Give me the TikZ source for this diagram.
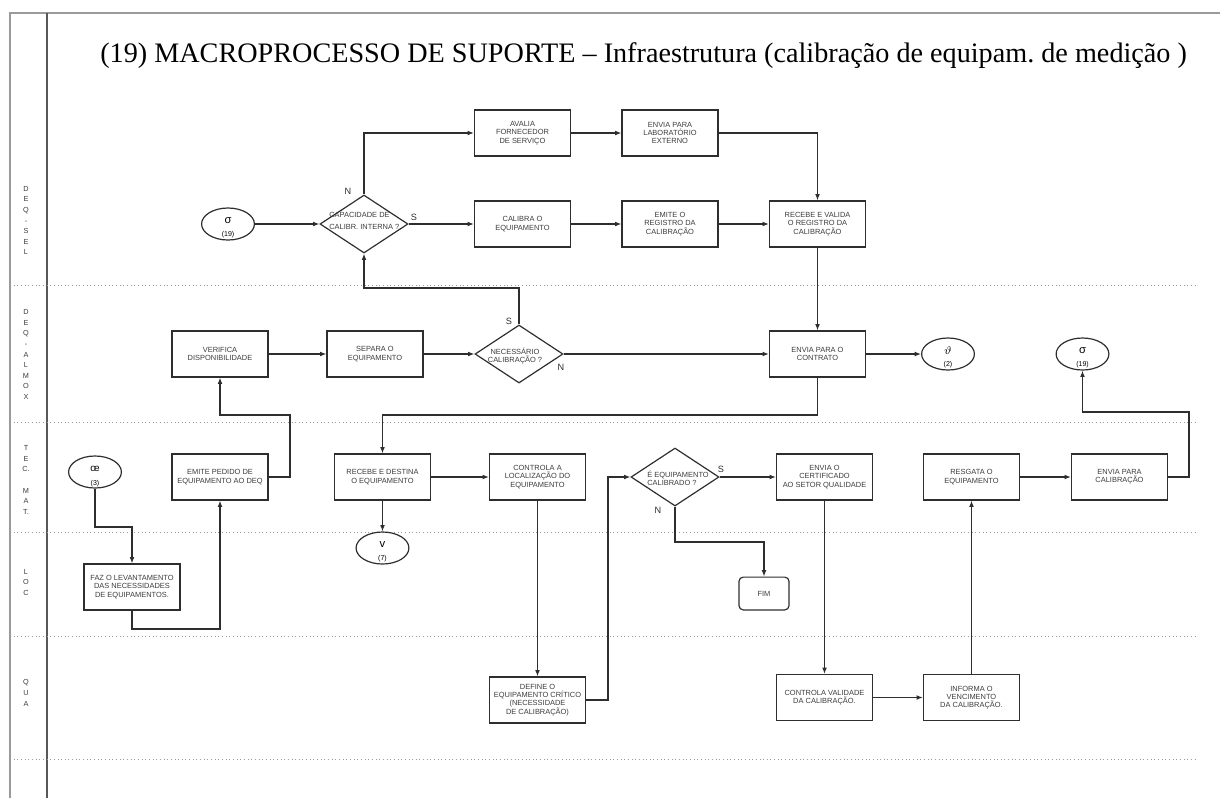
\documentclass[tikz,border=0pt]{standalone}
\usepackage{fontspec}
\setmainfont{Liberation Serif}
\setsansfont{Liberation Sans}
\usetikzlibrary{arrows.meta,shapes.geometric}
\definecolor{linegray}{HTML}{2E2E2E}
\definecolor{textgray}{HTML}{3C3C3C}
\definecolor{framegray}{HTML}{9A9A9A}
\newcommand{\boxfont}{\sffamily\fontsize{5.3}{5.9}\selectfont}
\newcommand{\lanefont}{\sffamily\fontsize{5.2}{7.55}\selectfont}
\newcommand{\symfont}{\sffamily\fontsize{8}{8}\selectfont}
\newcommand{\numfont}{\sffamily\fontsize{5}{5}\selectfont}

\begin{document}
\begin{tikzpicture}[x=0.025cm,y=-0.025cm,>={Latex[length=4.5pt,width=3.4pt]},
  atividade/.style={draw=linegray,line width=0.85pt,minimum width=2.4cm,minimum height=1.15cm,
    inner sep=1pt,align=center,text=textgray,font=\boxfont},
  decisao/.style={draw=linegray,line width=0.85pt,diamond,minimum width=2.2cm,minimum height=1.45cm,inner sep=0pt},
  conector/.style={draw=linegray,line width=0.85pt,ellipse,minimum width=1.32cm,minimum height=0.8cm,inner sep=0pt},
  fluxo/.style={->,draw=linegray,line width=0.75pt},
  resposta/.style={font=\sffamily\fontsize{6.5}{7}\selectfont,text=linegray,inner sep=0pt},
  raia/.style={framegray,dotted,line width=0.6pt}]
  \useasboundingbox (0,0) rectangle (1220,798);

  % moldura e raias
  \draw[framegray,line width=1pt] (10,798) -- (10,13) -- (1220,13);
  \draw[linegray!80,line width=0.9pt] (47,13) -- (47,798);
  \foreach \y in {285,422,532,636,759}
    \draw[raia] (10,\y) -- (1197,\y);
  \node[font=\lanefont,text=textgray,align=center] (lsel) at (26,220.5) {D\\E\\Q\\-\\S\\E\\L};
  \node[font=\lanefont,text=textgray,align=center] (lalm) at (26,354.5) {D\\E\\Q\\-\\A\\L\\M\\O\\X};
  \node[font=\lanefont,text=textgray,align=center] (ltec) at (26,480) {T\\E\\C.\\\mbox{}\\M\\A\\T.};
  \node[font=\lanefont,text=textgray,align=center] (lloc) at (26,582.5) {L\\O\\C};
  \node[font=\lanefont,text=textgray,align=center] (lqua) at (26,693) {Q\\U\\A};

  \node[anchor=base west,inner sep=0pt,font=\fontsize{20.05}{23}\selectfont\frenchspacing] (titulo) at (100,62)
    {(19) MACROPROCESSO DE SUPORTE -- Infraestrutura (calibração de equipam. de medição )};

  % DEQ - SEL
  \node[conector] (sig1) at (228,224) {};
  \node[font=\symfont] (sig1s) at (228,221) {σ};
  \node[font=\numfont] (sig1n) at (228,235) {(19)};
  \node[decisao] (capac) at (364,224) {};
  \node[anchor=west,align=left,inner sep=0pt,text=textgray,font=\sffamily\fontsize{5.3}{8.5}\selectfont]
    (capact) at (329,221) {CAPACIDADE DE\\CALIBR. INTERNA ?};
  \node[atividade] (avalia) at (522.5,133) {AVALIA\\FORNECEDOR\\DE SERVIÇO};
  \node[atividade] (envlab) at (670,133) {ENVIA PARA\\LABORATÓRIO\\EXTERNO};
  \node[atividade] (calibra) at (522.5,224) {CALIBRA O\\EQUIPAMENTO};
  \node[atividade] (emreg) at (670,224) {EMITE O\\REGISTRO DA\\CALIBRAÇÃO};
  \node[atividade] (recval) at (817.5,224) {RECEBE E VALIDA\\O REGISTRO DA\\CALIBRAÇÃO};
  \node[resposta] (capn) at (348,191) {N};
  \node[resposta] (caps) at (414,217) {S};

  % DEQ - ALMOX
  \node[atividade] (verifica) at (220,354) {VERIFICA\\DISPONIBILIDADE};
  \node[atividade] (separa) at (375,354) {SEPARA O\\EQUIPAMENTO};
  \node[decisao] (neces) at (519,354) {};
  \node[align=center,inner sep=0pt,text=textgray,font=\boxfont] (necest) at (515,356) {NECESSÁRIO\\CALIBRAÇÃO ?};
  \node[resposta] (necs) at (509,321) {S};
  \node[resposta] (necn) at (561,367) {N};
  \node[atividade] (contrato) at (817.5,354) {ENVIA PARA O\\CONTRATO};
  \node[conector] (theta) at (948,354) {};
  \node[font=\symfont] (thetas) at (948,351) {$\vartheta$};
  \node[font=\numfont] (thetan) at (948,365) {(2)};
  \node[conector] (sig2) at (1082.5,354) {};
  \node[font=\symfont] (sig2s) at (1082.5,351) {σ};
  \node[font=\numfont] (sig2n) at (1082.5,365) {(19)};

  % TEC. MAT.
  \node[conector] (oe) at (95,472) {};
  \node[font=\sffamily\fontsize{7}{7}\selectfont] (oes) at (95,469) {œ};
  \node[font=\numfont] (oen) at (95,484) {(3)};
  \node[atividade] (emite) at (220,477) {EMITE PEDIDO DE\\EQUIPAMENTO AO DEQ};
  \node[atividade] (destina) at (382.5,477) {RECEBE E DESTINA\\O EQUIPAMENTO};
  \node[atividade] (localiza) at (537.5,477) {CONTROLA A\\LOCALIZAÇÃO DO\\EQUIPAMENTO};
  \node[decisao] (calib) at (675,477) {};
  \node[anchor=west,align=left,inner sep=0pt,text=textgray,font=\boxfont] (calibt) at (647,478)
    {É EQUIPAMENTO\\CALIBRADO ?};
  \node[resposta] (calibs) at (721,469) {S};
  \node[resposta] (calibn) at (658,510) {N};
  \node[atividade] (certif) at (824.5,477) {ENVIA O\\CERTIFICADO\\AO SETOR QUALIDADE};
  \node[atividade] (resgata) at (971.5,477) {RESGATA O\\EQUIPAMENTO};
  \node[atividade] (envcal) at (1119.5,477) {ENVIA PARA\\CALIBRAÇÃO};

  % LOC
  \node[conector] (vv) at (382.5,548) {};
  \node[font=\symfont] (vvs) at (382.5,545) {v};
  \node[font=\numfont] (vvn) at (382.5,559) {(7)};
  \node[atividade] (levanta) at (132,587) {FAZ O LEVANTAMENTO\\DAS NECESSIDADES\\DE EQUIPAMENTOS.};
  \node[draw=linegray,line width=0.85pt,rounded corners=3pt,minimum width=1.25cm,minimum height=0.82cm,
    text=textgray,font=\boxfont] (fim) at (764,593.5) {FIM};

  % QUA
  \node[atividade] (define) at (537.5,700) {DEFINE O\\EQUIPAMENTO CRÍTICO\\(NECESSIDADE\\DE CALIBRAÇÃO)};
  \node[atividade] (validade) at (824.5,697.5) {CONTROLA VALIDADE\\DA CALIBRAÇÃO.};
  \node[atividade] (informa) at (971.5,697.5) {INFORMA O\\VENCIMENTO\\DA CALIBRAÇÃO.};

  % pontos de dobra
  \coordinate (k1) at (519,288);
  \coordinate (k2) at (817.5,415);
  \coordinate (k3) at (290,415);
  \coordinate (k4) at (95,527);
  \coordinate (k5) at (132,629);
  \coordinate (k6) at (608,700);
  \coordinate (k7) at (675,542);
  \coordinate (k8) at (1189,412);

  % fluxos
  \draw[fluxo] (sig1) -- (capac);
  \draw[fluxo] (capac.north) |- (avalia.west);
  \draw[fluxo] (capac.east) -- (calibra.west);
  \draw[fluxo] (avalia) -- (envlab);
  \draw[fluxo] (calibra) -- (emreg);
  \draw[fluxo] (emreg) -- (recval);
  \draw[fluxo] (envlab.east) -| (recval.north);
  \draw[fluxo] (recval) -- (contrato);
  \draw[fluxo] (verifica) -- (separa);
  \draw[fluxo] (separa) -- (neces);
  \draw[fluxo] (neces.north) -- (k1) -| (capac.south);
  \draw[fluxo] (neces.east) -- (contrato.west);
  \draw[fluxo] (contrato) -- (theta);
  \draw[fluxo] (contrato.south) -- (k2) -| (destina.north);
  \draw[fluxo] (emite.east) -| (k3) -| (verifica.south);
  \draw[fluxo] (oe.south) -- (k4) -| (levanta.north);
  \draw[fluxo] (levanta.south) -- (k5) -| (emite.south);
  \draw[fluxo] (destina) -- (vv);
  \draw[fluxo] (destina) -- (localiza);
  \draw[fluxo] (localiza.south) -- (define.north);
  \draw[fluxo] (define.east) -- (k6) |- (calib.west);
  \draw[fluxo] (calib.east) -- (certif.west);
  \draw[fluxo] (calib.south) -- (k7) -| (fim.north);
  \draw[fluxo] (certif.south) -- (validade.north);
  \draw[fluxo] (validade) -- (informa);
  \draw[fluxo] (informa) -- (resgata);
  \draw[fluxo] (resgata) -- (envcal);
  \draw[fluxo] (envcal.east) -| (k8) -| (sig2.south);
\end{tikzpicture}
\end{document}
